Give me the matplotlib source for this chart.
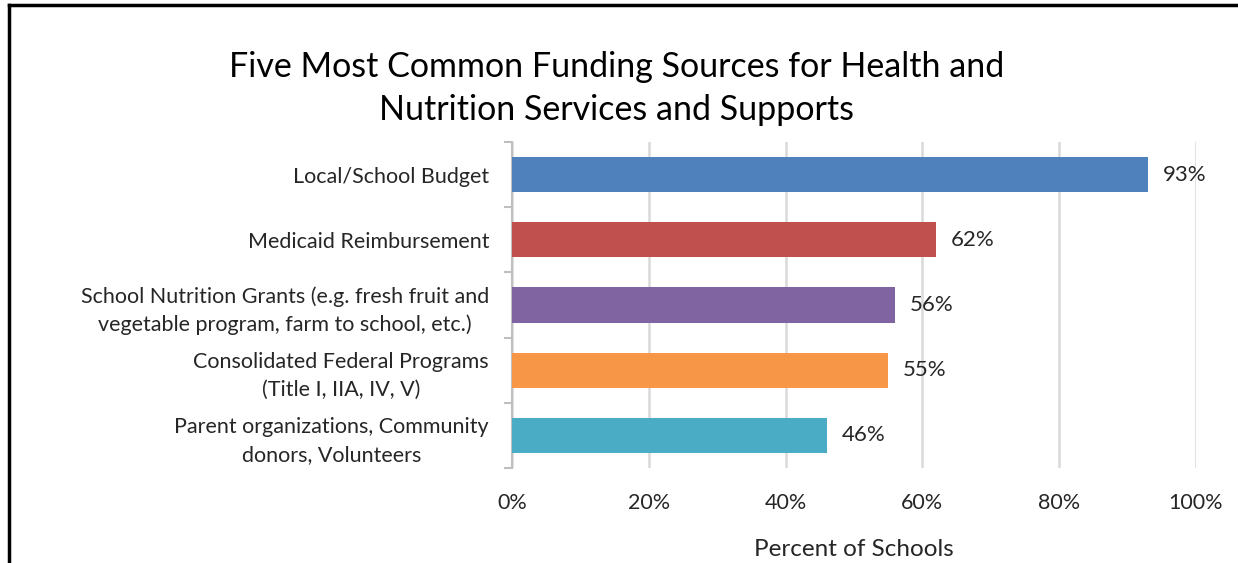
import numpy as np
import matplotlib.pyplot as plt
from matplotlib.ticker import FuncFormatter

plt.rcParams['font.family'] = ['Lato', 'DejaVu Sans']

# data
categories = ['Local/School Budget',
              'Medicaid Reimbursement',
              'School Nutrition Grants (e.g. fresh fruit and\nvegetable program, farm to school, etc.)',
              'Consolidated Federal Programs\n(Title I, IIA, IV, V)',
              'Parent organizations, Community\ndonors, Volunteers']
percent = [93, 62, 56, 55, 46]
bar_colors = ['#4F81BD', '#C0504D', '#8064A2', '#F79646', '#4BACC6']
x_ticks = [0, 20, 40, 60, 80, 100]

fig = plt.figure(figsize=(12.38, 5.63), dpi=100)
ax = fig.add_axes([0.4136, 0.1687, 0.5525, 0.5791])

y = np.arange(len(categories))
ax.barh(y, percent, height=0.54, color=bar_colors, zorder=3)
for yi, v in zip(y, percent):
    ax.text(v + 2.2, yi, f'{v}%', va='center', ha='left', fontsize=16, color='#262626')

ax.set_ylim(len(categories) - 0.5, -0.5)
ax.set_xlim(0, 100)
ax.set_yticks(y)
ax.set_yticklabels(categories, ha='right', multialignment='center', linespacing=1.45)
ax.tick_params(axis='y', length=0, pad=16.5, labelsize=15.5, labelcolor='#262626')
ax.set_yticks(np.arange(-0.5, len(categories), 1), minor=True)
ax.tick_params(axis='y', which='minor', length=6, color='#BFBFBF', width=1.5)

ax.set_xticks(x_ticks)
ax.xaxis.set_major_formatter(FuncFormatter(lambda v, p: f'{v:.0f}%'))
ax.tick_params(axis='x', length=0, pad=18, labelsize=15.5, labelcolor='#262626')
ax.grid(axis='x', color='#D9D9D9', linewidth=1.8, zorder=0)
ax.set_xlabel('Percent of Schools', fontsize=17.5, color='#262626', labelpad=19)

for s in ['top', 'right', 'bottom']:
    ax.spines[s].set_visible(False)
ax.spines['left'].set_color('#BFBFBF')
ax.spines['left'].set_linewidth(1.5)

fig.text(0.498, 0.881, 'Five Most Common Funding Sources for Health and',
         ha='center', va='center', fontsize=24.5, color='#000000')
fig.text(0.498, 0.804, 'Nutrition Services and Supports',
         ha='center', va='center', fontsize=24.5, color='#000000')

# outer frame (left and top edges visible)
fig.add_artist(plt.Line2D([0.0073, 0.0073], [0, 0.991], color='black', linewidth=2.5, transform=fig.transFigure))
fig.add_artist(plt.Line2D([0.0073, 1], [0.991, 0.991], color='black', linewidth=2.5, transform=fig.transFigure))

fig.savefig('out.png', dpi=100)
